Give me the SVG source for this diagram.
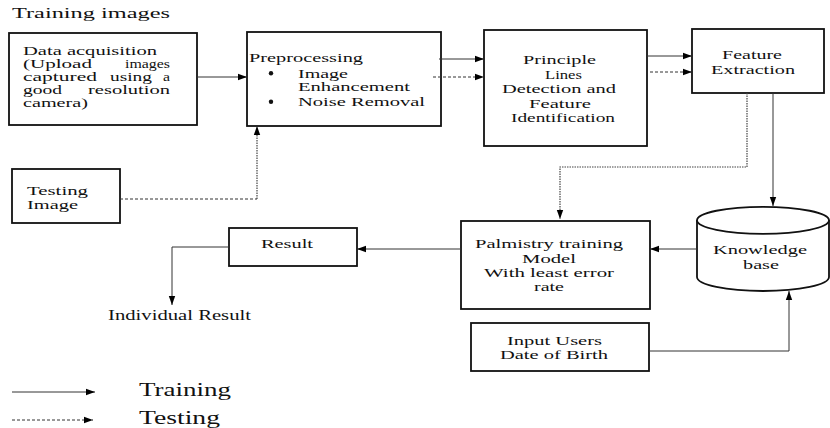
<svg xmlns="http://www.w3.org/2000/svg" width="830" height="428" viewBox="0 0 830 428" font-family="Liberation Serif, DejaVu Serif, serif" font-size="13.5">
<style>
text{fill:#111;font-family:"Liberation Serif","DejaVu Serif",serif}
.box{fill:#fff;stroke:#111;stroke-width:1.8}
.ln{fill:none;stroke:#333;stroke-width:1}
.dash{fill:none;stroke:#333;stroke-width:1;stroke-dasharray:3,2}
.dot{fill:none;stroke:#444;stroke-width:1.2;stroke-dasharray:1.5,1}
</style>
<defs>
<marker id="ah" markerWidth="10" markerHeight="8" refX="9" refY="4" orient="auto" markerUnits="userSpaceOnUse"><path d="M0,0.8 L9,4 L0,7.2 z" fill="#000"/></marker>
</defs>
<rect width="830" height="428" fill="#fff"/>
<text x="12" y="18" font-size="15.5" textLength="158" lengthAdjust="spacingAndGlyphs">Training images</text>

<g id="data-acquisition" font-size="12">
<rect class="box" x="9" y="33" width="188" height="92"/>
<text x="23" y="55" textLength="134" lengthAdjust="spacingAndGlyphs">Data acquisition</text>
<text x="23" y="68" textLength="69" lengthAdjust="spacingAndGlyphs">(Upload</text>
<text x="125" y="68" textLength="45" lengthAdjust="spacingAndGlyphs">images</text>
<text x="23" y="81" textLength="74" lengthAdjust="spacingAndGlyphs">captured</text>
<text x="110" y="81" textLength="42" lengthAdjust="spacingAndGlyphs">using</text>
<text x="163" y="81" textLength="7" lengthAdjust="spacingAndGlyphs">a</text>
<text x="23" y="94" textLength="39" lengthAdjust="spacingAndGlyphs">good</text>
<text x="88" y="94" textLength="82" lengthAdjust="spacingAndGlyphs">resolution</text>
<text x="23" y="107" textLength="65" lengthAdjust="spacingAndGlyphs">camera)</text>
</g>

<g id="preprocessing">
<rect class="box" x="247" y="32" width="194" height="94"/>
<text x="249" y="61.5" textLength="114" lengthAdjust="spacingAndGlyphs">Preprocessing</text>
<circle cx="271" cy="73.3" r="2.2" fill="#111"/>
<text x="298" y="77.5" textLength="50" lengthAdjust="spacingAndGlyphs">Image</text>
<text x="298" y="91" textLength="112" lengthAdjust="spacingAndGlyphs">Enhancement</text>
<circle cx="271" cy="101.7" r="2.2" fill="#111"/>
<text x="298" y="106" textLength="127" lengthAdjust="spacingAndGlyphs">Noise Removal</text>
</g>

<g id="principle-lines" font-size="13">
<rect class="box" x="484" y="30" width="163" height="116"/>
<text x="523" y="64" textLength="73" lengthAdjust="spacingAndGlyphs">Principle</text>
<text x="545" y="78.5" textLength="37" lengthAdjust="spacingAndGlyphs">Lines</text>
<text x="502" y="93" textLength="114" lengthAdjust="spacingAndGlyphs">Detection and</text>
<text x="529" y="107.5" textLength="62" lengthAdjust="spacingAndGlyphs">Feature</text>
<text x="511" y="122" textLength="104" lengthAdjust="spacingAndGlyphs">Identification</text>
</g>

<g id="feature-extraction">
<rect class="box" x="692" y="29" width="132" height="64"/>
<text x="722" y="58.5" textLength="60" lengthAdjust="spacingAndGlyphs">Feature</text>
<text x="711" y="73.5" textLength="84" lengthAdjust="spacingAndGlyphs">Extraction</text>
</g>

<g id="testing-image">
<rect class="box" x="12" y="169" width="108" height="54"/>
<text x="27" y="194.5" textLength="61" lengthAdjust="spacingAndGlyphs">Testing</text>
<text x="27" y="208.5" textLength="51" lengthAdjust="spacingAndGlyphs">Image</text>
</g>

<g id="knowledge-base">
<path class="box" d="M697,220 L697,277 A66,14 0 0 0 829,277 L829,220"/>
<ellipse class="box" cx="763" cy="220.3" rx="66" ry="13.5"/>
<text x="713" y="254" textLength="94" lengthAdjust="spacingAndGlyphs">Knowledge</text>
<text x="743" y="268.5" textLength="36" lengthAdjust="spacingAndGlyphs">base</text>
</g>

<g id="palmistry-model">
<rect class="box" x="461" y="221" width="189" height="88"/>
<text x="475" y="248" textLength="148" lengthAdjust="spacingAndGlyphs">Palmistry training</text>
<text x="522" y="262.5" textLength="54" lengthAdjust="spacingAndGlyphs">Model</text>
<text x="484" y="277" textLength="130" lengthAdjust="spacingAndGlyphs">With least error</text>
<text x="534" y="291" textLength="30" lengthAdjust="spacingAndGlyphs">rate</text>
</g>

<g id="result">
<rect class="box" x="229" y="228" width="128" height="38"/>
<text x="261" y="247.5" textLength="52" lengthAdjust="spacingAndGlyphs">Result</text>
</g>

<g id="individual-result">
<text x="108" y="319.5" font-size="14" textLength="143" lengthAdjust="spacingAndGlyphs">Individual Result</text>
</g>

<g id="input-users">
<rect class="box" x="471" y="323" width="178" height="48"/>
<text x="507" y="345" textLength="95" lengthAdjust="spacingAndGlyphs">Input Users</text>
<text x="500" y="359" textLength="108" lengthAdjust="spacingAndGlyphs">Date of Birth</text>
</g>

<g id="connectors">
<path class="ln" d="M197,77 L247,77" marker-end="url(#ah)"/>
<path class="ln" d="M439,59 L484,59" marker-end="url(#ah)"/>
<path class="dash" d="M433,77 L484,77" marker-end="url(#ah)"/>
<path class="ln" d="M647,56 L692,56" marker-end="url(#ah)"/>
<path class="dash" d="M650,72 L692,72" marker-end="url(#ah)"/>
<path class="dot" d="M747,93 L747,167 L560,167 L560,219" marker-end="url(#ah)"/>
<path class="ln" d="M773,93 L773,206" marker-end="url(#ah)"/>
<path class="ln" d="M697,249 L650,249" marker-end="url(#ah)"/>
<path class="ln" d="M461,249 L357,249" marker-end="url(#ah)"/>
<path class="ln" d="M229,247 L172,247 L172,305" marker-end="url(#ah)"/>
<path class="dash" d="M120,199 L257,199"/>
<path class="dot" d="M257,199 L257,126" marker-end="url(#ah)"/>
<path class="ln" d="M649,351 L789,351 L789,291" marker-end="url(#ah)"/>
</g>

<g id="legend">
<path class="ln" d="M12,392 L95,392" marker-end="url(#ah)"/>
<text x="139" y="396" font-size="19" textLength="92" lengthAdjust="spacingAndGlyphs">Training</text>
<path class="dash" d="M12,420 L93,420" marker-end="url(#ah)"/>
<text x="139" y="424" font-size="19" textLength="81" lengthAdjust="spacingAndGlyphs">Testing</text>
</g>
</svg>
